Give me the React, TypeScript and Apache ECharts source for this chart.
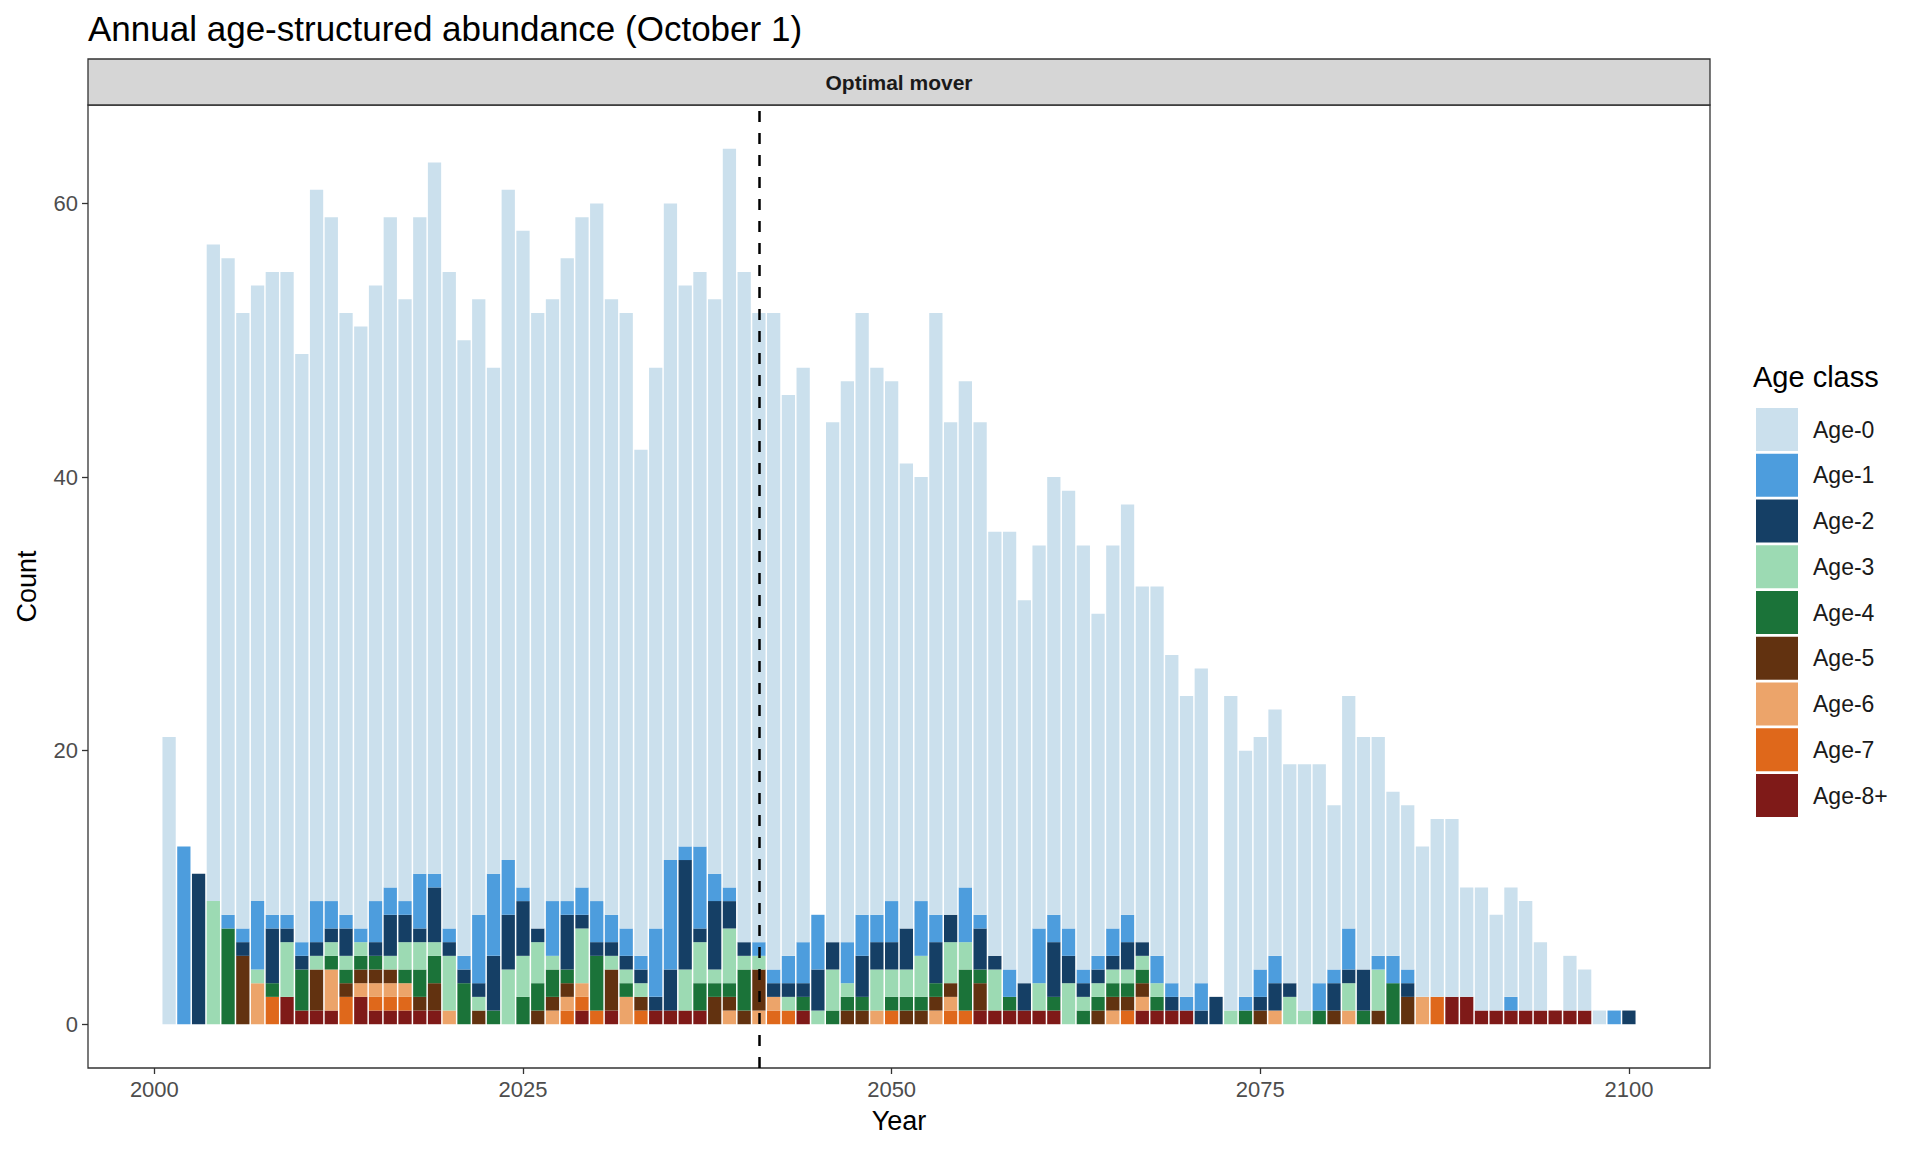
import React, { useEffect, useRef } from "react";
import * as echarts from "echarts";

const years: number[] = [];
for (let y = 2001; y <= 2100; y++) years.push(y);
// axis categories span the padded x range of the panel
const axisYears: string[] = [];
for (let y = 1996; y <= 2105; y++) axisYears.push(String(y));

const ageNames = ["Age-0", "Age-1", "Age-2", "Age-3", "Age-4", "Age-5", "Age-6", "Age-7", "Age-8+"];
const ageColors = ["#cbe0ed", "#4d9ddd", "#153f65", "#9cdab3", "#1b7339", "#623210", "#eca46a", "#df681b", "#7f1a18"];

const age0 = [
  21, 0, 0, 48, 48, 45, 45, 47, 47, 43,
  52, 50, 44, 44, 45, 49, 44, 48, 52, 48,
  45, 45, 37, 49, 48, 45, 44, 47, 49, 51,
  45, 45, 37, 41, 48, 41, 42, 42, 54, 49,
  46, 48, 41, 42, 0, 38, 41, 44, 40, 38,
  34, 31, 44, 36, 37, 36, 31, 32, 28, 28,
  32, 32, 31, 25, 28, 30, 26, 27, 24, 22,
  23, 0, 23, 18, 17, 18, 16, 18, 16, 12,
  17, 17, 16, 12, 12, 11, 13, 13, 8, 9,
  7, 8, 8, 5, 0, 4, 3, 1, 0, 0,
];
const age1 = [
  0, 13, 0, 0, 1, 1, 5, 1, 1, 1,
  3, 2, 1, 1, 3, 2, 1, 4, 1, 1,
  1, 5, 6, 4, 1, 0, 4, 1, 2, 3,
  2, 2, 1, 5, 8, 1, 6, 2, 1, 0,
  1, 1, 2, 3, 4, 0, 3, 3, 2, 3,
  0, 4, 2, 0, 4, 1, 0, 2, 0, 4,
  2, 2, 1, 1, 2, 2, 0, 2, 1, 1,
  2, 0, 0, 1, 2, 2, 0, 0, 2, 1,
  3, 0, 1, 2, 1, 0, 0, 0, 0, 0,
  0, 1, 0, 0, 0, 0, 0, 0, 1, 0,
];
const age2 = [
  0, 0, 11, 0, 0, 1, 0, 4, 1, 1,
  1, 1, 2, 0, 1, 3, 2, 1, 4, 1,
  1, 1, 4, 4, 4, 1, 0, 4, 1, 1,
  1, 1, 1, 1, 3, 8, 1, 5, 2, 1,
  0, 1, 1, 1, 3, 2, 0, 3, 2, 2,
  3, 0, 3, 2, 0, 3, 1, 0, 2, 0,
  4, 2, 1, 1, 1, 2, 1, 0, 1, 0,
  1, 2, 0, 0, 1, 2, 1, 0, 0, 2,
  1, 3, 0, 0, 1, 0, 0, 0, 0, 0,
  0, 0, 0, 0, 0, 0, 0, 0, 0, 1,
];
const age3 = [
  0, 0, 0, 9, 0, 0, 1, 0, 4, 0,
  1, 1, 1, 1, 0, 1, 2, 2, 1, 4,
  0, 1, 0, 4, 3, 3, 1, 0, 4, 0,
  1, 1, 1, 0, 0, 3, 3, 1, 4, 1,
  1, 0, 1, 0, 1, 3, 1, 0, 3, 2,
  2, 3, 0, 3, 2, 0, 3, 0, 0, 2,
  0, 3, 1, 1, 1, 1, 1, 1, 0, 0,
  0, 0, 1, 0, 0, 0, 2, 1, 0, 0,
  2, 0, 3, 0, 0, 0, 0, 0, 0, 0,
  0, 0, 0, 0, 0, 0, 0, 0, 0, 0,
];
const age4 = [
  0, 0, 0, 0, 7, 0, 0, 1, 0, 3,
  0, 1, 1, 1, 1, 0, 1, 2, 2, 0,
  3, 0, 1, 0, 2, 2, 2, 1, 0, 4,
  0, 1, 0, 0, 0, 0, 2, 1, 1, 3,
  0, 0, 0, 1, 0, 1, 1, 1, 0, 1,
  1, 1, 1, 0, 3, 1, 0, 1, 0, 0,
  1, 0, 1, 1, 1, 1, 1, 1, 0, 0,
  0, 0, 0, 1, 0, 0, 0, 0, 1, 0,
  0, 1, 0, 3, 0, 0, 0, 0, 0, 0,
  0, 0, 0, 0, 0, 0, 0, 0, 0, 0,
];
const age5 = [
  0, 0, 0, 0, 0, 5, 0, 0, 0, 0,
  3, 0, 1, 1, 1, 1, 0, 1, 2, 0,
  0, 1, 0, 0, 0, 1, 1, 1, 0, 0,
  3, 0, 1, 0, 0, 0, 0, 2, 1, 1,
  3, 0, 0, 0, 0, 0, 1, 1, 0, 0,
  1, 1, 1, 1, 0, 2, 0, 0, 0, 0,
  0, 0, 0, 1, 1, 1, 1, 0, 0, 0,
  0, 0, 0, 0, 1, 0, 0, 0, 0, 1,
  0, 0, 1, 0, 2, 0, 0, 0, 0, 0,
  0, 0, 0, 0, 0, 0, 0, 0, 0, 0,
];
const age6 = [
  0, 0, 0, 0, 0, 0, 3, 0, 0, 0,
  0, 3, 0, 1, 1, 1, 1, 0, 0, 1,
  0, 0, 0, 0, 0, 0, 1, 1, 1, 0,
  0, 2, 0, 0, 0, 0, 0, 0, 1, 0,
  1, 1, 0, 0, 0, 0, 0, 0, 1, 0,
  0, 0, 1, 1, 0, 0, 0, 0, 0, 0,
  0, 0, 0, 0, 1, 0, 1, 0, 0, 0,
  0, 0, 0, 0, 0, 1, 0, 0, 0, 0,
  1, 0, 0, 0, 0, 2, 0, 0, 0, 0,
  0, 0, 0, 0, 0, 0, 0, 0, 0, 0,
];
const age7 = [
  0, 0, 0, 0, 0, 0, 0, 2, 0, 0,
  0, 0, 2, 0, 1, 1, 1, 0, 0, 0,
  0, 0, 0, 0, 0, 0, 0, 1, 1, 1,
  0, 0, 1, 0, 0, 0, 0, 0, 0, 0,
  0, 1, 1, 0, 0, 0, 0, 0, 0, 1,
  0, 0, 0, 1, 1, 0, 0, 0, 0, 0,
  0, 0, 0, 0, 0, 1, 0, 0, 0, 0,
  0, 0, 0, 0, 0, 0, 0, 0, 0, 0,
  0, 0, 0, 0, 0, 0, 2, 0, 0, 0,
  0, 0, 0, 0, 0, 0, 0, 0, 0, 0,
];
const age8 = [
  0, 0, 0, 0, 0, 0, 0, 0, 2, 1,
  1, 1, 0, 2, 1, 1, 1, 1, 1, 0,
  0, 0, 0, 0, 0, 0, 0, 0, 1, 0,
  1, 0, 0, 1, 1, 1, 1, 0, 0, 0,
  0, 0, 0, 1, 0, 0, 0, 0, 0, 0,
  0, 0, 0, 0, 0, 1, 1, 1, 1, 1,
  1, 0, 0, 0, 0, 0, 1, 1, 1, 1,
  0, 0, 0, 0, 0, 0, 0, 0, 0, 0,
  0, 0, 0, 0, 0, 0, 0, 2, 2, 1,
  1, 1, 1, 1, 1, 1, 1, 0, 0, 0,
];
const ageValues = [age0, age1, age2, age3, age4, age5, age6, age7, age8];

const xTicks = [2000, 2025, 2050, 2075, 2100];
const yTicks = [0, 20, 40, 60];
const vLineYear = 2041;

const titleText = "Annual age-structured abundance (October 1)";
const stripText = "Optimal mover";
const xTitle = "Year";
const yTitle = "Count";
const legendTitle = "Age class";

const FONT = "'Liberation Sans', Arial, Helvetica, sans-serif";

export default function App() {
  const ref = useRef<HTMLDivElement>(null);
  useEffect(() => {
    document.body.style.margin = "0";
    document.body.style.overflow = "hidden";
    if (!ref.current) return;
    const chart = echarts.init(ref.current, undefined, { renderer: "svg" });

    const gridLeft = 88;
    const gridRight = 1710;
    const gridTop = 105;
    const gridBottom = 1068;
    const stripTop = 59;

    const isXTick = (_i: number, v: string) => xTicks.indexOf(Number(v)) >= 0;

    // stacked bottom-first: Age-8+ at bottom, Age-0 on top
    const order = [8, 7, 6, 5, 4, 3, 2, 1, 0];
    const series: any[] = order.map((ai) => ({
      name: ageNames[ai],
      type: "bar",
      stack: "total",
      barWidth: "90%",
      itemStyle: { color: ageColors[ai] },
      emphasis: { disabled: true },
      data: axisYears.map((c) => {
        const idx = years.indexOf(Number(c));
        return idx >= 0 ? ageValues[ai][idx] : 0;
      }),
      ...(ai === 0
        ? {
            markLine: {
              silent: true,
              symbol: ["none", "none"],
              label: { show: false },
              lineStyle: { color: "#000", width: 2.5, type: [11, 11] },
              data: [{ xAxis: String(vLineYear) }],
            },
          }
        : {}),
    }));

    chart.setOption({
      animation: false,
      grid: {
        left: gridLeft,
        top: gridTop,
        width: gridRight - gridLeft,
        height: gridBottom - gridTop,
        show: true,
        borderColor: "#333333",
        borderWidth: 1.3,
        backgroundColor: "#ffffff",
      },
      xAxis: {
        type: "category",
        data: axisYears,
        boundaryGap: true,
        axisLine: { show: false, onZero: false },
        splitLine: { show: false },
        axisTick: {
          show: true,
          alignWithLabel: true,
          interval: isXTick,
          length: 6,
          lineStyle: { color: "#333333", width: 1.3 },
        },
        axisLabel: {
          interval: isXTick,
          fontSize: 22,
          color: "#4d4d4d",
          fontFamily: FONT,
          margin: 10,
        },
      },
      yAxis: {
        type: "value",
        min: -3.2,
        max: 67.2,
        axisLine: { show: false, onZero: false },
        splitLine: { show: false },
        axisTick: {
          show: true,
          length: 6,
          lineStyle: { color: "#333333", width: 1.3 },
          customValues: yTicks,
        },
        axisLabel: {
          customValues: yTicks,
          fontSize: 22,
          color: "#4d4d4d",
          fontFamily: FONT,
          margin: 10,
          formatter: (v: number) => String(v),
        },
      },
      legend: {
        data: ageNames,
        orient: "vertical",
        left: 1751,
        top: 403,
        itemWidth: 42,
        itemHeight: 43,
        itemGap: 2.75,
        icon: "rect",
        selectedMode: false,
        textStyle: { fontSize: 23, color: "#1a1a1a", fontFamily: FONT, padding: [0, 0, 0, 10] },
      },
      graphic: [
        {
          type: "text",
          x: gridLeft,
          y: 28,
          style: { text: titleText, fontSize: 35, fill: "#000", fontFamily: FONT, verticalAlign: "middle" },
        },
        {
          type: "rect",
          shape: { x: gridLeft, y: stripTop, width: gridRight - gridLeft, height: gridTop - stripTop },
          style: { fill: "#d6d6d6", stroke: "#333333", lineWidth: 1.3 },
        },
        {
          type: "text",
          x: (gridLeft + gridRight) / 2,
          y: (stripTop + gridTop) / 2,
          style: {
            text: stripText,
            fontSize: 21,
            fontWeight: "bold",
            fill: "#1a1a1a",
            fontFamily: FONT,
            align: "center",
            verticalAlign: "middle",
          },
        },
        {
          type: "text",
          x: (gridLeft + gridRight) / 2,
          y: 1121,
          style: { text: xTitle, fontSize: 27, fill: "#000", fontFamily: FONT, align: "center", verticalAlign: "middle" },
        },
        {
          type: "text",
          x: 27,
          y: (gridTop + gridBottom) / 2,
          rotation: Math.PI / 2,
          style: { text: yTitle, fontSize: 27, fill: "#000", fontFamily: FONT, align: "center", verticalAlign: "middle" },
        },
        {
          type: "text",
          x: 1753,
          y: 377,
          style: { text: legendTitle, fontSize: 29, fill: "#000", fontFamily: FONT, verticalAlign: "middle" },
        },
      ],
      series,
    });

    return () => chart.dispose();
  }, []);

  return <div ref={ref} style={{ width: 1920, height: 1152 }} />;
}
